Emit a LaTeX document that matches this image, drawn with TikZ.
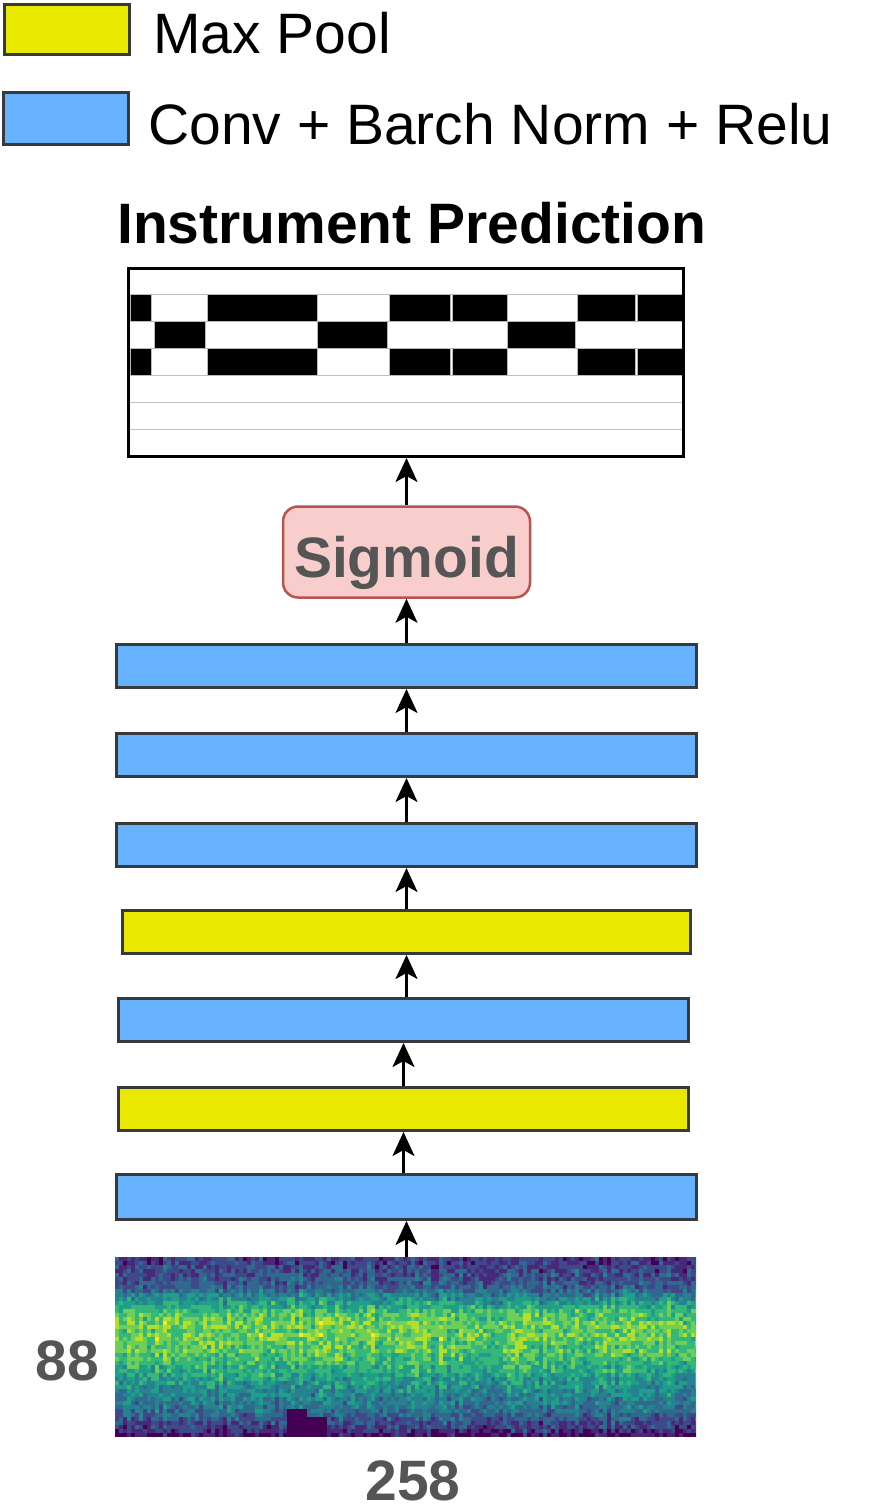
\documentclass[tikz,border=0pt]{standalone}
\usepackage{fontspec}
\setmainfont{Liberation Sans}
\usetikzlibrary{arrows.meta}
\definecolor{convblue}{HTML}{66B2FF}
\definecolor{poolyellow}{HTML}{E8E800}
\definecolor{bordergray}{HTML}{36393D}
\definecolor{sigfill}{HTML}{F8CECC}
\definecolor{sigdraw}{HTML}{B85450}
\definecolor{txtgray}{HTML}{555555}
\definecolor{vir0}{HTML}{440154}
\definecolor{vir1}{HTML}{482878}
\definecolor{vir2}{HTML}{3E4989}
\definecolor{vir3}{HTML}{31688E}
\definecolor{vir4}{HTML}{26828E}
\definecolor{vir5}{HTML}{1F9E89}
\definecolor{vir6}{HTML}{35B779}
\definecolor{vir7}{HTML}{6ECE58}
\definecolor{vir8}{HTML}{B5DE2B}
\definecolor{vir9}{HTML}{FDE725}
\begin{document}
\begin{tikzpicture}[x=1pt,y=-1pt,
  bigfont/.style={font=\fontsize{57}{60}\selectfont},
  boldfont/.style={font=\bfseries\fontsize{57}{60}\selectfont},
  bar/.style={draw=bordergray, line width=3pt, minimum height=43pt, inner sep=0pt},
  bluebar/.style={bar, fill=convblue},
  yellowbar/.style={bar, fill=poolyellow},
  arr/.style={line width=2.7pt, -{Stealth[length=24pt,width=22pt,inset=6pt]}},
  cell/.style={fill=black, draw=gray!55, line width=1pt},
  rowline/.style={draw=gray!50, line width=1pt}
]
\useasboundingbox (0,0) rectangle (894,1509);

% legend
\node[yellowbar, minimum width=125pt, minimum height=50pt] (legpool) at (67,29.5) {};
\node[bluebar, minimum width=125pt, minimum height=52pt] (legconv) at (66,118.5) {};
\node[bigfont, anchor=base west, inner sep=0pt] (legpooltxt) at (153,53.3) {Max Pool};
\node[bigfont, anchor=base west, inner sep=0pt] (legconvtxt) at (148,144) {Conv + Barch Norm + Relu};

% title
\node[boldfont, anchor=base west, inner sep=0pt] (title) at (117,243.5) {Instrument Prediction};

% prediction grid
\foreach \yy in {294.3,321.7,348.3,375.7,402.7,429.3}{
  \draw[rowline] (130,\yy) -- (683,\yy);
}
\foreach \a/\b in {130/151,207/317,389/450,452/507,577/635,637/683}{
  \draw[cell] (\a,294.3) rectangle (\b,321.7);
  \draw[cell] (\a,348.3) rectangle (\b,375.7);
}
\foreach \a/\b in {154/205,317/387,507/575}{
  \draw[cell] (\a,321.7) rectangle (\b,348.3);
}
\node[draw=black, line width=3pt, minimum width=555pt, minimum height=188pt, inner sep=0pt] (pred) at (406,362.5) {};

% sigmoid
\node[draw=sigdraw, fill=sigfill, line width=2.5pt, rounded corners=15pt,
      minimum width=247pt, minimum height=91pt, inner sep=0pt,
      text=txtgray, boldfont,
      text height=50pt, text depth=0pt] (sig) at (406.5,552) {Sigmoid};

% layers
\node[bluebar, minimum width=580pt] (b1) at (406.5,666) {};
\node[bluebar, minimum width=580pt] (b2) at (406.5,755) {};
\node[bluebar, minimum width=580pt] (b3) at (406.5,845) {};
\node[yellowbar, minimum width=568pt] (y1) at (406.5,932) {};
\node[bluebar, minimum width=570pt] (b4) at (403.5,1020) {};
\node[yellowbar, minimum width=570pt] (y2) at (403.5,1109) {};
\node[bluebar, minimum width=580pt, minimum height=45pt] (b5) at (406.5,1197) {};

% spectrogram
\def\prof{{0.2,0.22,0.24,0.26,0.27,0.28,0.3,0.32,0.38,0.44,0.5,0.55,0.6,0.66,0.7,0.72,0.74,0.76,0.72,0.76,0.74,0.72,0.7,0.72,0.68,0.66,0.64,0.62,0.6,0.56,0.54,0.52,0.5,0.48,0.46,0.44,0.42,0.4,0.37,0.34,0.3,0.26,0.22,0.16,0.1}}
\pgfmathsetseed{11}
\begin{scope}
\clip (115,1257) rectangle (696,1437);
\foreach \c in {0,...,145}{
  \pgfmathsetmacro\cofs{0.12*rnd-0.06}
  \pgfmathtruncatemacro\dstart{(\c<48) ? 37 : 39}
  \foreach \r in {0,...,44}{
    \pgfmathsetmacro\vv{\prof[\r]+\cofs+0.24*rnd-0.12}
    \pgfmathtruncatemacro\idx{max(0,min(9,10*\vv))}
    \pgfmathtruncatemacro\idx{\idx*(1-(\c>42)*(\c<53)*(\r>\dstart))}
    \fill[vir\idx] ({115+4*\c},{1257+4*\r}) rectangle ++(4.4,4.4);
  }
}
\end{scope}
\node[minimum width=581pt, minimum height=180pt, inner sep=0pt] (spec) at (405.5,1347) {};

\node[text=txtgray, boldfont, anchor=base east, inner sep=0pt] (dimh) at (99,1380) {88};
\node[text=txtgray, boldfont, anchor=base, inner sep=0pt] (dimw) at (413,1500) {258};

% arrows
\draw[arr] (spec.north -| b5.south) -- (b5.south);
\draw[arr] (b5.north -| y2.south) -- (y2.south);
\draw[arr] (y2.north) -- (b4.south);
\draw[arr] (b4.north -| y1.south) -- (y1.south);
\draw[arr] (y1.north) -- (b3.south);
\draw[arr] (b3.north) -- (b2.south);
\draw[arr] (b2.north) -- (b1.south);
\draw[arr] (b1.north) -- (b1.north |- sig.south);
\draw[arr] (sig.north) -- (sig.north |- pred.south);
\end{tikzpicture}
\end{document}
